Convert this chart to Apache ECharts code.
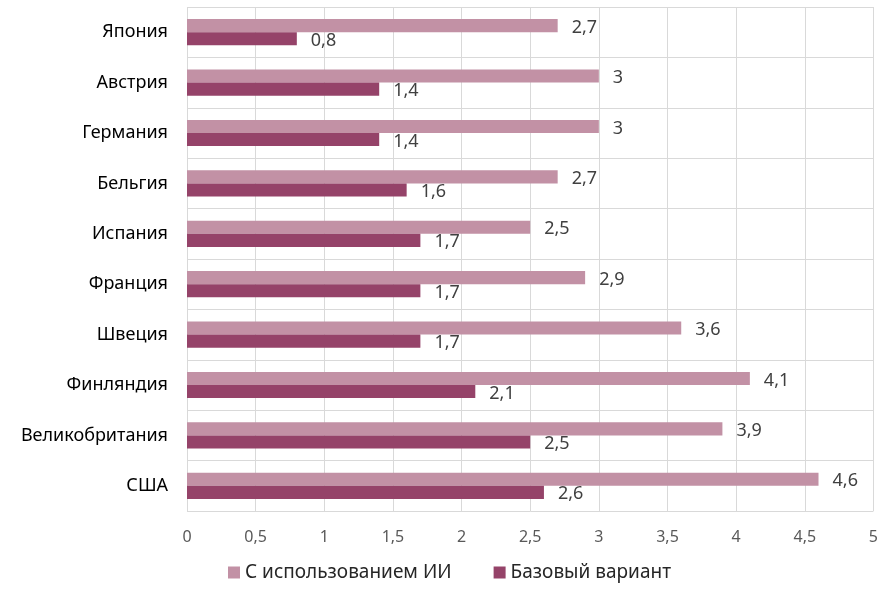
<!DOCTYPE html>
<html>
<head>
    <meta charset="utf-8">
    <title>ИИ и рост</title>
    <script src="https://cdn.jsdelivr.net/npm/echarts@6/dist/echarts.min.js"></script>
    <style>
        body { margin: 0; background: #fff; }
    </style>
</head>
<body>

<div id="main" style="width: 881px;height:594px;"></div>

<script type="text/javascript">

    // данные
    var countries = ['Япония', 'Австрия', 'Германия', 'Бельгия', 'Испания', 'Франция', 'Швеция', 'Финляндия', 'Великобритания', 'США'];
    var withAI = [2.7, 3, 3, 2.7, 2.5, 2.9, 3.6, 4.1, 3.9, 4.6];
    var baseline = [0.8, 1.4, 1.4, 1.6, 1.7, 1.7, 1.7, 2.1, 2.5, 2.6];
    var seriesNames = ['С использованием ИИ', 'Базовый вариант'];

    function comma(v) {
        return String(v).replace('.', ',');
    }

    var myChart = echarts.init(document.getElementById('main'));

    var labelStyle = {
        show: true,
        position: 'right',
        distance: 14,
        offset: [0, 2],
        color: '#404040',
        fontSize: 18,
        fontFamily: 'Noto Sans',
        formatter: function (p) { return comma(p.value); }
    };

    var option = {
        animation: false,
        grid: {
            left: 187,
            right: 6,
            top: 7,
            bottom: 83
        },
        legend: {
            bottom: 7,
            left: 223,
            itemWidth: 12,
            itemHeight: 12,
            itemGap: 42,
            icon: 'rect',
            textStyle: {
                color: '#262626',
                fontSize: 19,
                fontFamily: 'Noto Sans'
            },
            data: seriesNames
        },
        xAxis: {
            type: 'value',
            min: 0,
            max: 5,
            interval: 0.5,
            axisLine: { show: false },
            axisTick: { show: false },
            splitLine: { lineStyle: { color: '#d9d9d9', width: 1 } },
            axisLabel: {
                margin: 18,
                color: '#595959',
                fontSize: 16,
                fontFamily: 'Noto Sans',
                formatter: function (v) { return comma(v); }
            }
        },
        yAxis: {
            type: 'category',
            inverse: true,
            data: countries,
            axisLine: { show: false },
            axisTick: { show: false },
            splitLine: { show: true, lineStyle: { color: '#d9d9d9', width: 1 } },
            axisLabel: {
                margin: 19,
                color: '#000',
                fontSize: 18,
                fontFamily: 'Noto Sans'
            }
        },
        series: [
            {
                name: seriesNames[0],
                type: 'bar',
                data: withAI,
                barGap: '0%',
                barCategoryGap: '48%',
                itemStyle: { color: '#c291a5' },
                label: labelStyle
            },
            {
                name: seriesNames[1],
                type: 'bar',
                data: baseline,
                itemStyle: { color: '#954369' },
                label: labelStyle
            }
        ]
    };

    myChart.setOption(option);

</script>
</body>
</html>
